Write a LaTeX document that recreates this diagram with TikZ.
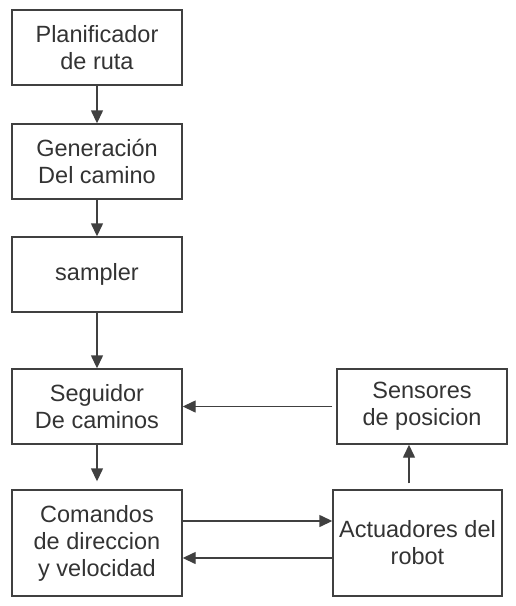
\documentclass[tikz,border=0pt]{standalone}
\usepackage{fontspec}
\setmainfont{Liberation Sans}
\usetikzlibrary{arrows.meta}
\definecolor{linegray}{HTML}{404040}
\definecolor{textgray}{HTML}{333333}
\tikzset{
  blk/.style={draw=linegray, line width=1.4pt, rectangle, inner sep=0pt, align=center,
    text=textgray, font=\fontsize{23.5}{27}\selectfont},
  arr/.style={draw=linegray, line width=1.4pt, -{Triangle[length=13pt,width=12pt]}}
}
\begin{document}
\begin{tikzpicture}[x=1pt,y=-1pt]
\useasboundingbox (0,0) rectangle (516,606);
\node[blk, minimum width=170pt, minimum height=75pt] (plan) at (97,47.5) {Planificador\\ de ruta};
\node[blk, minimum width=170pt, minimum height=75pt] (gen) at (97,161.5) {Generación\\Del camino};
\node[blk, minimum width=170pt, minimum height=75pt] (samp) at (97,274.5) {sampler};
\node[blk, minimum width=170pt, minimum height=75pt] (seg) at (97,406.5) {Seguidor\\De caminos};
\node[blk, minimum width=170pt, minimum height=106pt] (com) at (97,543) {Comandos\\de direccion\\y velocidad};
\node[blk, minimum width=170pt, minimum height=75pt] (sens) at (422,406.5) {Sensores\\de posicion};
\node[blk, minimum width=169pt, minimum height=106pt] (act) at (417.5,543) {Actuadores del\\robot};
\draw[arr] (plan.south) -- (gen.north);
\draw[arr] (gen.south) -- (samp.north);
\draw[arr] (samp.south) -- (seg.north);
\draw[arr] (seg.south) -- ([yshift=8pt]com.north);
\draw[arr] ([xshift=-4pt]sens.west) -- (seg.east);
\draw[arr] ([yshift=22pt]com.east) -- ([yshift=22pt]act.west);
\draw[arr] ([yshift=-15pt]act.west) -- ([yshift=-15pt]com.east);
\draw[arr] ([xshift=-8.5pt,yshift=6pt]act.north) -- ([xshift=-8.5pt]act.north |- sens.south);
\end{tikzpicture}
\end{document}
